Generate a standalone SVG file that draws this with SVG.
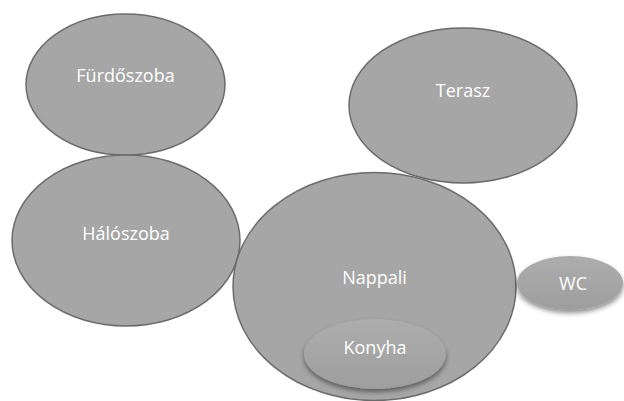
<svg xmlns="http://www.w3.org/2000/svg" width="624" height="401" viewBox="0 0 624 401">
<defs>
<style>
.n{fill:#a6a6a6;stroke:#6b6b6b;stroke-width:1.5}
.s{fill:url(#g);filter:url(#sh)}
text{font-family:"Open Sans","Liberation Sans",sans-serif;font-size:18px;fill:#ffffff;text-anchor:middle;dominant-baseline:central}
</style>
<linearGradient id="g" x1="0" y1="0" x2="0" y2="1">
<stop offset="0" stop-color="#adadad"/>
<stop offset="1" stop-color="#9e9e9e"/>
</linearGradient>
<filter id="sh" x="-20%" y="-20%" width="140%" height="160%">
<feDropShadow dx="0" dy="3" stdDeviation="2.5" flood-color="#000" flood-opacity="0.45"/>
</filter>
</defs>
<rect width="624" height="401" fill="#ffffff"/>
<g id="furdoszoba"><ellipse class="n" cx="125.5" cy="84.5" rx="99.5" ry="70.5"/><text x="125.5" y="75">Fürdőszoba</text></g>
<g id="terasz"><ellipse class="n" cx="463" cy="105.5" rx="114" ry="77.5"/><text x="463" y="90">Terasz</text></g>
<g id="haloszoba"><ellipse class="n" cx="126" cy="240.5" rx="114" ry="85.5"/><text x="126" y="233">Hálószoba</text></g>
<g id="nappali"><ellipse class="n" cx="374.5" cy="286.5" rx="141.5" ry="114"/><text x="374.5" y="277">Nappali</text></g>
<g id="wc"><ellipse class="s" cx="570" cy="283" rx="53" ry="27"/><text x="573" y="283">WC</text></g>
<g id="konyha"><ellipse class="s" cx="375" cy="354" rx="71" ry="35"/><text x="375" y="347">Konyha</text></g>
<g id="connectors"/>
</svg>
